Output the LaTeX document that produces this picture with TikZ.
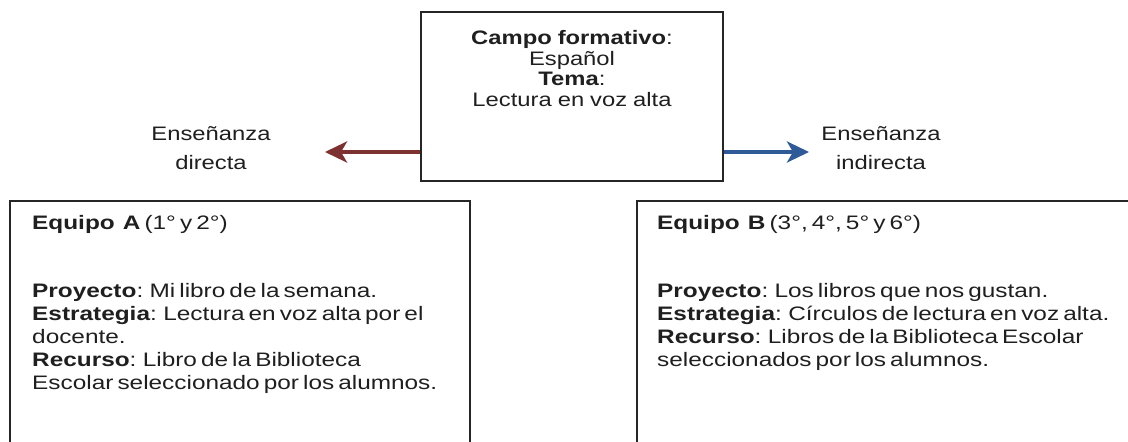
\documentclass[tikz,border=0pt]{standalone}
\usepackage{fontspec}
\setmainfont{Liberation Sans}[FakeStretch=1.25, WordSpace=0.6]
\newfontfamily\ctrfont{Liberation Sans}[FakeStretch=1.22, WordSpace=0.9]
\usetikzlibrary{arrows.meta}
\definecolor{redarrow}{HTML}{7E3131}
\definecolor{bluearrow}{HTML}{2F5A98}
\definecolor{boxline}{HTML}{262626}
\tikzset{
  frame/.style={draw=boxline, line width=1.5pt},
  txt/.style={inner sep=0pt, font=\fontsize{19.5}{23}\selectfont, text=black!88},
  ctxt/.style={inner sep=0pt, font=\ctrfont\fontsize{19.5}{20.7}\selectfont, text=black!88, align=center},
  bigarrow/.style={line width=4.5pt, -{Stealth[length=22pt,width=21pt,inset=6pt]}},
}
\begin{document}
\begin{tikzpicture}[x=1pt,y=-1pt]
\path[use as bounding box] (0,0) rectangle (1128,442);
\clip (0,0) rectangle (1128,442);
\fill[white] (0,0) rectangle (1128,442);
% top box
\node[frame, minimum width=302pt, minimum height=169pt, inner sep=0pt] (top) at (572,96.5) {};
\node[ctxt, anchor=north] (toptext) at (572,30) {\textbf{Campo formativo}:\\Español\\\textbf{Tema}:\\Lectura en voz alta};
% side labels
\node[ctxt] (ldir) at (211,148) {Enseñanza\\[9pt]directa};
\node[ctxt] (rind) at (881,148) {Enseñanza\\[9pt]indirecta};
% arrows
\coordinate (la) at (325,152);
\coordinate (ra) at (809,152);
\draw[bigarrow, draw=redarrow, fill=redarrow] (top.west |- la) -- (la);
\draw[bigarrow, draw=bluearrow, fill=bluearrow] (top.east |- ra) -- (ra);
% bottom boxes
\draw[frame] (10,460) -- (10,201) -- (470,201) -- (470,460);
\draw[frame] (637,460) -- (637,201) -- (1150,201);
\node[txt, anchor=base west] (eqa) at (32,229) {\textbf{Equipo \ A} (1° y 2°)};
\node[txt, anchor=north west, align=left] (bodya) at (32,283) {\textbf{Proyecto}: Mi libro de la semana.\\\textbf{Estrategia}: Lectura en voz alta por el\\docente.\\\textbf{Recurso}: Libro de la Biblioteca\\Escolar seleccionado por los alumnos.};
\node[txt, anchor=base west] (eqb) at (657,229) {\textbf{Equipo \ B} (3°, 4°, 5° y 6°)};
\node[txt, anchor=north west, align=left] (bodyb) at (657,283) {\textbf{Proyecto}: Los libros que nos gustan.\\\textbf{Estrategia}: Círculos de lectura en voz alta.\\\textbf{Recurso}: Libros de la Biblioteca Escolar\\seleccionados por los alumnos.};
\end{tikzpicture}
\end{document}
